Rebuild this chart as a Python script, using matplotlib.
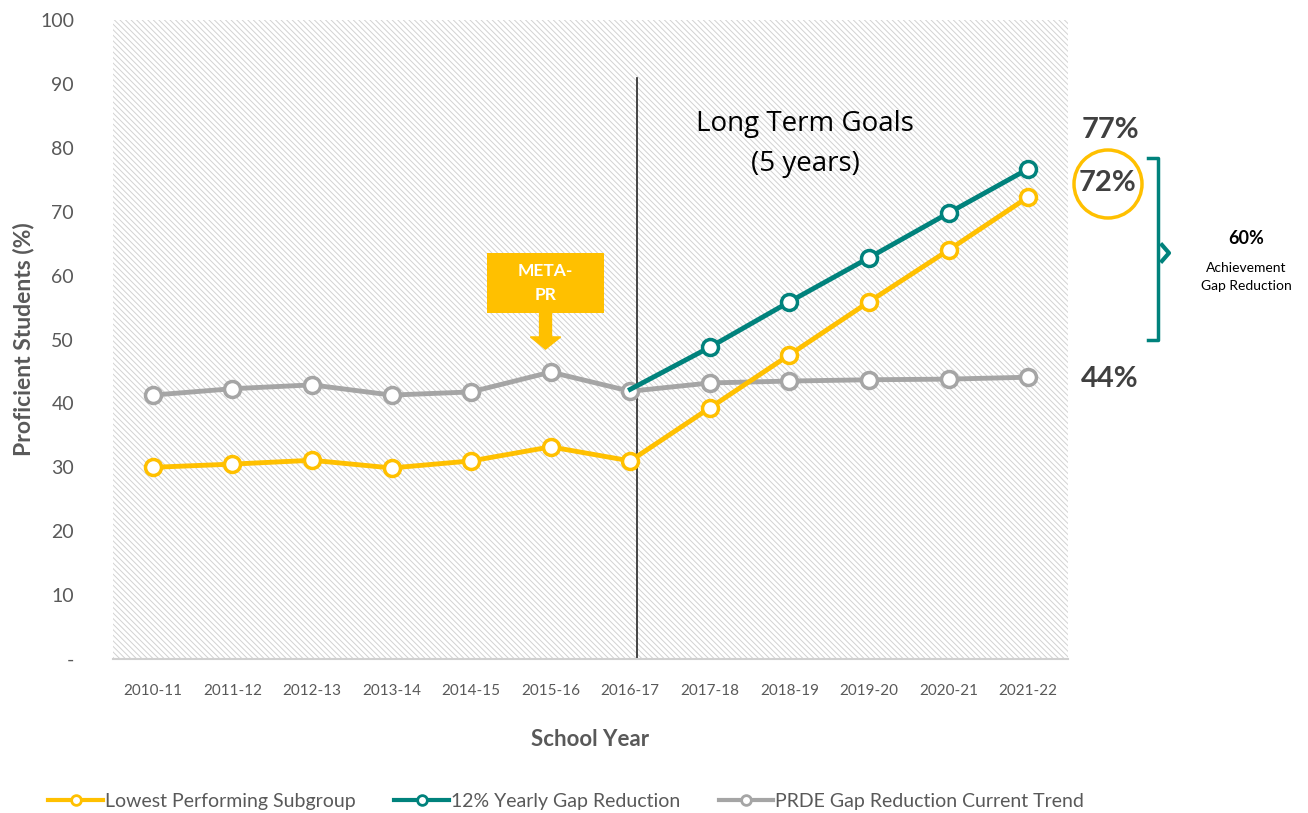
import numpy as np
import matplotlib
matplotlib.use('Agg')
import matplotlib.pyplot as plt
from matplotlib.patches import Rectangle, FancyArrow
from matplotlib.lines import Line2D

plt.rcParams['font.family'] = ['Lato', 'DejaVu Sans']
plt.rcParams['hatch.linewidth'] = 0.7

years = ['2010-11', '2011-12', '2012-13', '2013-14', '2014-15', '2015-16',
         '2016-17', '2017-18', '2018-19', '2019-20', '2020-21', '2021-22']
lowest = [30.0, 30.5, 31.1, 29.9, 31.0, 33.2, 31.0, 39.3, 47.6, 55.9, 64.0, 72.3]
gap12 = [np.nan] * 6 + [42.2, 48.8, 55.9, 62.8, 69.8, 76.7]
prde = [41.3, 42.3, 42.9, 41.3, 41.8, 44.9, 41.9, 43.2, 43.5, 43.7, 43.8, 44.1]

YELLOW = '#FFC000'
TEAL = '#00827C'
GRAY = '#A5A5A5'
TXT = '#595959'

fig = plt.figure(figsize=(13.08, 8.13), dpi=100)
ax = fig.add_axes([0.0864, 0.1894, 0.7301, 0.786])
x = np.arange(len(years))

# hatched plot area
ax.add_patch(Rectangle((0, 0), 1, 1, transform=ax.transAxes, facecolor='white',
                       edgecolor='#d2d2d2', hatch='\\' * 6, linewidth=0, zorder=0))

mk = dict(marker='o', markersize=11.5, markerfacecolor='white', markeredgewidth=2.5, linewidth=3.5)
ax.plot(x, prde, color=GRAY, zorder=3, label='PRDE Gap Reduction Current Trend', **mk)
ax.plot(x, gap12, color=TEAL, zorder=4, markevery=list(range(7, 12)),
        label='12% Yearly Gap Reduction', **mk)
ax.plot(x, lowest, color=YELLOW, zorder=5, label='Lowest Performing Subgroup', **mk)

ax.plot([6.08, 6.08], [0, 90.9], color='#262626', linewidth=1.2, zorder=2)

ax.set_xlim(-0.5, 11.5)
ax.set_ylim(0, 100)
ax.set_xticks(x)
ax.set_xticklabels(years, fontsize=11, color=TXT)
ax.set_yticks(range(0, 101, 10))
ax.set_yticklabels(['-'] + [str(v) for v in range(10, 101, 10)], fontsize=14, color=TXT)
ax.tick_params(length=0, pad=18)
ax.tick_params(axis='y', pad=28)
for s in ['top', 'right', 'left']:
    ax.spines[s].set_visible(False)
ax.spines['bottom'].set_color('#d0d0d0')
ax.spines['bottom'].set_linewidth(1.5)

ax.set_ylabel('Proficient Students (%)', fontsize=16.5, fontweight='bold', color=TXT, labelpad=4)
ax.set_xlabel('School Year', fontsize=16, fontweight='bold', color=TXT, labelpad=22)

# META-PR callout
ax.add_patch(Rectangle((4.2, 54.1), 1.47, 9.5, facecolor=YELLOW, edgecolor='none', zorder=6))
ax.text(4.935, 58.9, 'META-\nPR', ha='center', va='center', color='white',
        fontsize=12.5, fontweight='bold', linespacing=1.6, zorder=7)
ax.add_patch(FancyArrow(4.935, 54.1, 0, -5.6, width=0.15, head_width=0.38, head_length=1.9,
                        length_includes_head=True, color=YELLOW, zorder=6))

ax.text(8.2, 80.6, 'Long Term Goals\n(5 years)', ha='center', va='center', fontsize=20,
        color='black', linespacing=1.55, family=['Open Sans', 'DejaVu Sans'])

# right-side annotations (figure pixel coords)
def fx(px):
    return px / 1308

def fy(py):
    return 1 - py / 813

fig.text(fx(1110), fy(130), '77%', ha='center', va='center', fontsize=21, fontweight='bold', color='#404040')
fig.text(fx(1107), fy(183), '72%', ha='center', va='center', fontsize=21, fontweight='bold', color='#404040')
fig.text(fx(1110), fy(379), '44%', ha='center', va='center', fontsize=21, fontweight='bold', color='#404040')
circ = plt.Circle((1108, 813 - 184), 34, transform=None, fill=False, edgecolor=YELLOW, linewidth=2.5)
fig.patches.append(circ)

bx = [fx(1148), fx(1158), fx(1158), fx(1148)]
by = [fy(158), fy(158), fy(340), fy(340)]
fig.add_artist(Line2D(bx, by, color=TEAL, linewidth=2.5))
fig.add_artist(Line2D([fx(1162), fx(1169), fx(1162)], [fy(245), fy(253), fy(261)],
                      color=TEAL, linewidth=3))
fig.text(fx(1246), fy(238), '60%', ha='center', va='center', fontsize=13, fontweight='bold', color='black')
fig.text(fx(1246), fy(277), 'Achievement\nGap Reduction', ha='center', va='center', fontsize=10,
         color='black', linespacing=1.6)

# legend
h, l = ax.get_legend_handles_labels()
order = [2, 1, 0]
leg = fig.legend([h[i] for i in order], [l[i] for i in order], loc='center', bbox_to_anchor=(0.433, 0.014),
                 ncol=3, frameon=False, fontsize=14, handlelength=2.8, columnspacing=2.0,
                 handletextpad=0.1)
for t in leg.get_texts():
    t.set_color(TXT)
for lh in leg.legend_handles:
    lh.set_markersize(7)
    lh.set_linewidth(3)
    lh.set_markeredgewidth(2)

fig.savefig('out.png', dpi=100)
